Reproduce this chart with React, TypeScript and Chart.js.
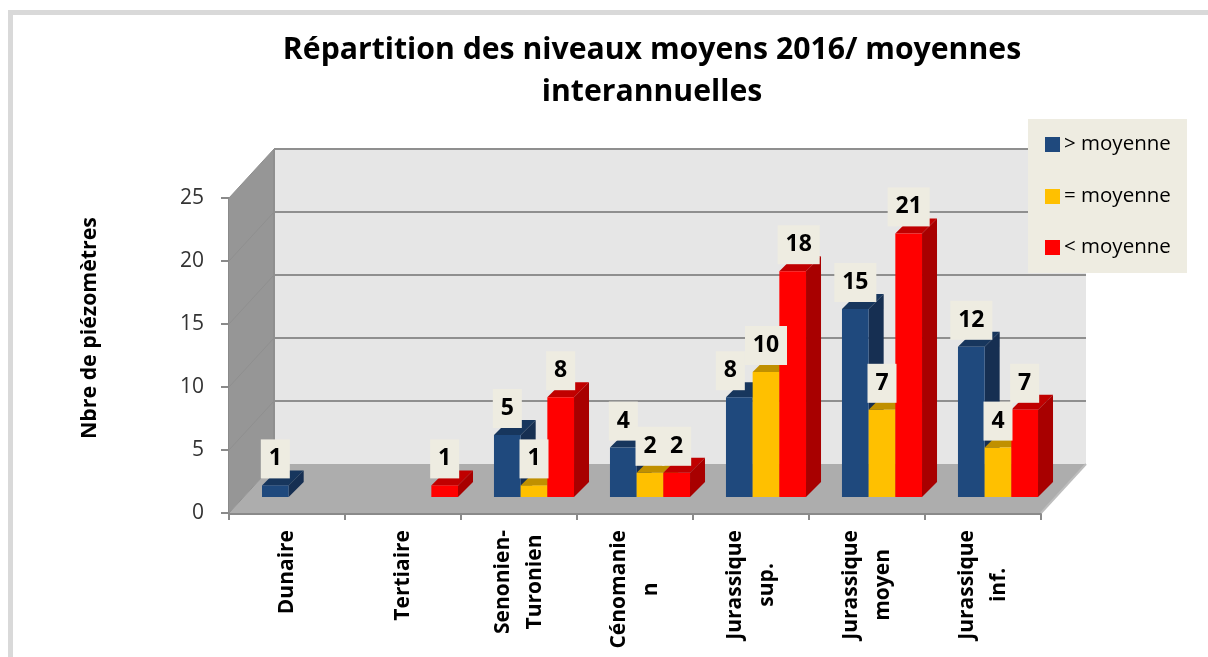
import React, { useEffect, useRef } from "react";
import { Chart, registerables } from "chart.js";

Chart.register(...registerables);

const categories = [
  ["Dunaire"],
  ["Tertiaire"],
  ["Senonien-", "Turonien"],
  ["Cénomanie", "n"],
  ["Jurassique", "sup."],
  ["Jurassique", "moyen"],
  ["Jurassique", "inf."],
];
const aboveAverage = [1, null, 5, 4, 8, 15, 12];
const atAverage = [null, null, 1, 2, 10, 7, 4];
const belowAverage = [null, 1, 8, 2, 18, 21, 7];
const seriesNames = ["> moyenne", "= moyenne", "< moyenne"];
const titleLines = ["Répartition des niveaux moyens 2016/ moyennes", "interannuelles"];
const yAxisTitle = "Nbre de piézomètres";

const FONT = '"Open Sans", sans-serif';
const colors = ["#1F497D", "#FFC000", "#FF0000"];
const sideColors = ["#162F52", "#B08500", "#A80000"];
const topColors = ["#17365D", "#C09000", "#C00000"];
const BAR_SHIFT = { x: 15, y: -15 };
const BAR_DEPTH = { x: 15, y: -15 };
const WALL = { x: 45, y: -49 };
const labelNudge: Record<string, number> = { "0:4": -9, "2:4": 6 };

function poly(ctx: CanvasRenderingContext2D, pts: number[][], fill: string) {
  ctx.beginPath();
  pts.forEach((p, i) => (i ? ctx.lineTo(p[0], p[1]) : ctx.moveTo(p[0], p[1])));
  ctx.closePath();
  ctx.fillStyle = fill;
  ctx.fill();
}

const scene = {
  id: "scene",
  beforeDraw(chart: any) {
    const { ctx, width, height } = chart;
    ctx.save();
    ctx.fillStyle = "#FFFFFF";
    ctx.fillRect(0, 0, width, height);
    ctx.fillStyle = "#D9D9D9";
    ctx.fillRect(8, 10, width - 8, 5);
    ctx.fillRect(8, 10, 5, height - 10);
    ctx.restore();
  },
  beforeDatasetsDraw(chart: any) {
    const { ctx, chartArea: a, scales } = chart;
    const y = scales.y;
    ctx.save();
    // walls
    poly(ctx, [[a.left + WALL.x, a.top + WALL.y], [a.right + WALL.x, a.top + WALL.y], [a.right + WALL.x, a.bottom + WALL.y], [a.left + WALL.x, a.bottom + WALL.y]], "#E6E6E6");
    poly(ctx, [[a.left, a.top], [a.left + WALL.x, a.top + WALL.y], [a.left + WALL.x, a.bottom + WALL.y], [a.left, a.bottom]], "#969696");
    poly(ctx, [[a.left, a.bottom], [a.left + WALL.x, a.bottom + WALL.y], [a.right + WALL.x, a.bottom + WALL.y], [a.right, a.bottom]], "#ADADAD");
    // gridlines on the walls
    for (const t of y.ticks) {
      const py = y.getPixelForValue(t.value);
      if (t.value !== 0) {
        ctx.lineWidth = 2;
        ctx.strokeStyle = "#8F8F8F";
        ctx.beginPath();
        ctx.moveTo(a.left + WALL.x, py + WALL.y);
        ctx.lineTo(a.right + WALL.x, py + WALL.y);
        ctx.stroke();
      }
      ctx.lineWidth = 1;
      ctx.strokeStyle = "#8F8F8F";
      ctx.beginPath();
      ctx.moveTo(a.left, py);
      ctx.lineTo(a.left + WALL.x, py + WALL.y);
      ctx.stroke();
    }
    ctx.lineWidth = 2;
    ctx.strokeStyle = "#8F8F8F";
    ctx.beginPath();
    ctx.moveTo(a.left + WALL.x, a.top + WALL.y);
    ctx.lineTo(a.left + WALL.x, a.bottom + WALL.y);
    ctx.stroke();
    ctx.strokeStyle = "#BDBDBD";
    ctx.beginPath();
    ctx.moveTo(a.right, a.bottom);
    ctx.lineTo(a.right + WALL.x, a.bottom + WALL.y);
    ctx.stroke();
    ctx.restore();
  },
  // Chart.js paints the right-most bars first; for the extruded look the
  // series have to go left to right, so they are painted in afterDatasetsDraw.
  beforeDatasetDraw() {
    return false;
  },
  afterDatasetsDraw(chart: any) {
    const { ctx, scales } = chart;
    ctx.save();
    ctx.save();
    ctx.translate(BAR_SHIFT.x, BAR_SHIFT.y);
    chart.data.datasets.forEach((ds: any, i: number) => {
      chart.getDatasetMeta(i).data.forEach((bar: any, k: number) => {
        if (ds.data[k] == null) return;
        const l = bar.x - bar.width / 2;
        const r = bar.x + bar.width / 2;
        const d = BAR_DEPTH;
        poly(ctx, [[l, bar.y], [l + d.x, bar.y + d.y], [r + d.x, bar.y + d.y], [r, bar.y]], topColors[i]);
        poly(ctx, [[r, bar.y], [r + d.x, bar.y + d.y], [r + d.x, bar.base + d.y], [r, bar.base]], sideColors[i]);
        bar.draw(ctx);
      });
    });
    ctx.restore();
    // value labels
    ctx.textAlign = "center";
    ctx.textBaseline = "middle";
    chart.data.datasets.forEach((ds: any, i: number) => {
      chart.getDatasetMeta(i).data.forEach((bar: any, k: number) => {
        const v = ds.data[k];
        if (v == null) return;
        const text = String(v);
        const w = text.length > 1 ? 42 : 29;
        const h = 39;
        const cx = bar.x + BAR_SHIFT.x + (labelNudge[i + ":" + k] || 0);
        const bottom = bar.y + BAR_SHIFT.y - 7;
        ctx.fillStyle = "#EEECE1";
        ctx.fillRect(cx - w / 2, bottom - h, w, h);
        ctx.fillStyle = "#000000";
        ctx.font = "bold 23px " + FONT;
        ctx.fillText(text, cx, bottom - h / 2);
      });
    });
    // rotated category labels
    ctx.fillStyle = "#000000";
    ctx.font = "bold 21px " + FONT;
    const x = scales.x;
    categories.forEach((lines, k) => {
      const cx = x.getPixelForValue(k);
      lines.forEach((line, j) => {
        ctx.save();
        ctx.translate(cx + (j - (lines.length - 1) / 2) * 32, 582);
        ctx.rotate(-Math.PI / 2);
        ctx.textAlign = "center";
        const tw = ctx.measureText(lines[0]).width;
        ctx.fillText(line, 52 - tw / 2, 0);
        ctx.restore();
      });
    });
    // axis title
    ctx.save();
    ctx.translate(90, 328);
    ctx.rotate(-Math.PI / 2);
    ctx.font = "bold 21.3px " + FONT;
    ctx.fillText(yAxisTitle, 0, 0);
    ctx.restore();
    // chart title
    ctx.font = "bold 30.2px " + FONT;
    ctx.fillText(titleLines[0], 652, 50);
    ctx.fillText(titleLines[1], 652, 92);
    // legend
    ctx.fillStyle = "#EEECE1";
    ctx.fillRect(1028, 119, 159, 154);
    ctx.textAlign = "left";
    ctx.font = "20.5px " + FONT;
    seriesNames.forEach((name, i) => {
      const ly = [144, 196, 247][i];
      ctx.fillStyle = colors[i];
      ctx.fillRect(1045, ly - 7, 15, 15);
      ctx.fillStyle = "#000000";
      ctx.fillText(name, 1064, ly);
    });
    ctx.restore();
  },
};

export default function App() {
  const ref = useRef<HTMLCanvasElement>(null);
  useEffect(() => {
    const chart = new Chart(ref.current!, {
      type: "bar",
      data: {
        labels: categories.map((c) => c.join(" ")),
        datasets: [aboveAverage, atAverage, belowAverage].map((data, i) => ({
          label: seriesNames[i],
          data,
          backgroundColor: colors[i],
          borderWidth: 0,
          barPercentage: 1,
          categoryPercentage: 0.69,
        })),
      } as any,
      options: {
        responsive: false,
        animation: false,
        layout: { padding: { left: 0, right: 167, top: 198, bottom: 0 } },
        plugins: { legend: { display: false }, title: { display: false }, tooltip: { enabled: false } },
        scales: {
          x: {
            ticks: { display: false },
            grid: { drawOnChartArea: false, tickLength: 7, color: "#8A8A8A", lineWidth: 2, offset: true },
            border: { color: "#8A8A8A", width: 3 },
            afterFit: (s: any) => { s.height = 144; },
          },
          y: {
            min: 0,
            max: 25,
            ticks: { stepSize: 5, color: "#333333", font: { family: "Open Sans", size: 21 }, padding: 17 },
            grid: { drawOnChartArea: false, tickLength: 8, color: "#8A8A8A", lineWidth: 2 },
            border: { color: "#8A8A8A", width: 2 },
            afterFit: (s: any) => { s.width = 229; },
          },
        },
      },
      plugins: [scene],
    } as any);
    return () => chart.destroy();
  }, []);
  return (
    <canvas
      ref={ref}
      width={1208}
      height={657}
      style={{ position: "absolute", left: 0, top: 0, display: "block" }}
    />
  );
}
